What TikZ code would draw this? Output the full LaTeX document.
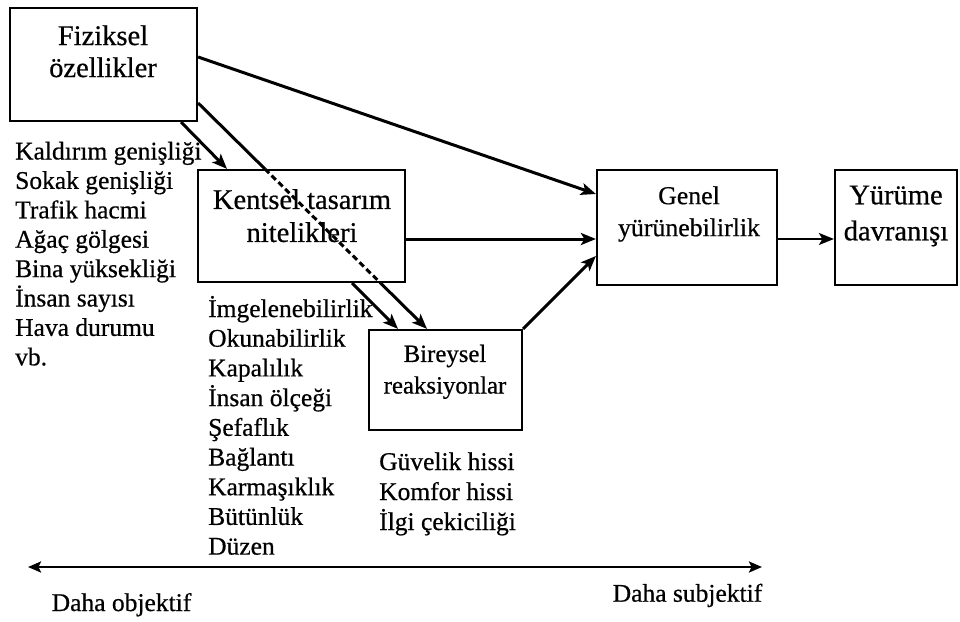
\documentclass[tikz,border=0pt]{standalone}
\usepackage{fontspec}
\setmainfont[FakeBold=0.6]{Liberation Serif}
\usetikzlibrary{arrows.meta,intersections}
\begin{document}
\begin{tikzpicture}[x=1pt,y=-1pt,
  box/.style={draw, line width=2.2pt, inner sep=0pt},
  boxtext/.style={align=center, inner sep=0pt},
  item/.style={anchor=base west, inner sep=0pt, font=\fontsize{25.5}{29}\selectfont},
  tip/.style={-{Stealth[length=15pt,width=12pt,inset=3.5pt]}},
  thickline/.style={line width=3pt},
  arr/.style={thickline, tip},
  bottomlabel/.style={anchor=base, inner sep=0pt, font=\fontsize{25.5}{28}\selectfont},
]
\useasboundingbox (0,0) rectangle (960,621);

% boxes
\node[box, minimum width=187pt, minimum height=113pt] (fiz) at (103.5,64.5) {};
\node[box, minimum width=207pt, minimum height=112pt] (kent) at (301.5,226) {};
\node[box, minimum width=180pt, minimum height=115pt] (genel) at (687,227.5) {};
\node[box, minimum width=122pt, minimum height=115pt] (yur) at (896,227.5) {};
\node[box, minimum width=153pt, minimum height=100pt] (bir) at (445.5,380) {};

% box texts
\node[boxtext, font=\fontsize{28.5}{32}\selectfont] (fizt) at (103,51.3) {Fiziksel\\özellikler};
\node[boxtext, font=\fontsize{28.5}{33}\selectfont] (kentt) at (302,215.7) {Kentsel tasarım\\nitelikleri};
\node[boxtext, font=\fontsize{25.8}{32}\selectfont] (genelt) at (689,214) {Genel\\yürünebilirlik};
\node[boxtext, font=\fontsize{28.5}{36}\selectfont] (yurt) at (896,216) {Yürüme\\davranışı};
\node[boxtext, font=\fontsize{24.8}{31.6}\selectfont] (birt) at (445,371.8) {Bireysel\\reaksiyonlar};

% lists
\foreach \t [count=\i from 0] in {Kaldırım genişliği, Sokak genişliği, Trafik hacmi, Ağaç gölgesi, Bina yüksekliği, İnsan sayısı, Hava durumu, vb.}
  \node[item] (p\i) at (15,{159.5+29.4*\i}) {\t};
\foreach \t [count=\i from 0] in {İmgelenebilirlik, Okunabilirlik, Kapalılık, İnsan ölçeği, Şefaflık, Bağlantı, Karmaşıklık, Bütünlük, Düzen}
  \node[item] (u\i) at (208,{317+29.7*\i}) {\t};
\foreach \t [count=\i from 0] in {Güvelik hissi, Komfor hissi, İlgi çekiciliği}
  \node[item] (r\i) at (379,{470+30*\i}) {\t};

% connectors
\draw[arr] ([yshift=7.5pt]fiz.east) -- ([yshift=33.5pt]genel.west);
\draw[arr] ([xshift=-17pt]fiz.south east) -- ([xshift=-74.5pt]kent.north);

\coordinate (a3s) at ([yshift=-38.5pt]fiz.east);
\coordinate (a3e) at ([xshift=-18.5pt]bir.north);
\path[name path=a3line] (a3s) -- (a3e);
\path[name path=kbox] (kent.north west) rectangle (kent.south east);
\path[name intersections={of=a3line and kbox, sort by=a3line, by={i1,i2}}];
\draw[thickline] (a3s) -- (i1);
\draw[thickline, dash pattern=on 6pt off 3.5pt] (i1) -- (i2);
\draw[arr] (i2) -- (a3e);

\draw[arr] ([xshift=50.5pt]kent.south) -- ([xshift=-47.5pt]bir.north);
\coordinate (a5s) at ([yshift=-13pt]kent.east);
\draw[arr] (a5s) -- (a5s -| genel.west);
\draw[arr] (bir.north east) -- ([yshift=-28.5pt]genel.west);
\coordinate (a7s) at ([yshift=-11.5pt]genel.east);
\draw[line width=2.2pt, tip] (a7s) -- (a7s -| yur.west);

% bottom scale
\coordinate (bl) at (28,567);
\coordinate (br) at (762,567);
\draw[line width=2.4pt, {Stealth[length=13pt,width=11pt,inset=2.5pt]}-{Stealth[length=13pt,width=11pt,inset=2.5pt]}] (bl) -- (br);
\node[bottomlabel] (obj) at (121.5,611) {Daha objektif};
\node[bottomlabel] (subj) at (687.5,601.7) {Daha subjektif};
\end{tikzpicture}
\end{document}
